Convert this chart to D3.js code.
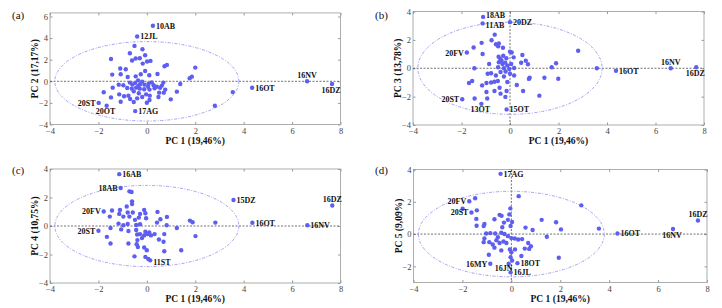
<!DOCTYPE html>
<html>
<head>
<meta charset="utf-8">
<script src="https://cdn.jsdelivr.net/npm/d3@7"></script>
<style>body{margin:0;background:#fff}</style>
</head>
<body>
<div id="chart"></div>
<script>
// PC scores (unlabelled samples)
const ptsA = [[-0.51,3.28],[-0.18,2.97],[-0.70,2.60],[-0.07,2.41],[-0.46,2.11],[-0.29,2.14],[-1.48,2.07],[-0.61,1.92],[0.01,1.83],[0.15,1.89],[-0.17,1.64],[0.73,1.39],[0.83,1.52],[2.0,1.27],[-1.10,1.18],[-0.87,1.11],[-0.07,0.96],[-0.25,0.65],[0.10,0.56],[0.44,0.68],[-1.43,0.62],[-1.08,0.65],[-0.79,0.40],[-0.46,0.46],[1.86,0.43],[1.77,0.28],[-0.36,0.09],[-0.19,-0.03],[-0.48,-0.15],[-0.28,-0.28],[-0.10,-0.31],[0.07,-0.22],[0.28,-0.37],[0.41,-0.50],[0.62,-0.40],[0.76,-0.77],[1.38,-0.25],[-1.16,-0.31],[-0.97,-0.37],[-1.41,-0.59],[-0.81,-0.62],[-0.62,-0.68],[-0.44,-0.59],[-0.29,-0.68],[-0.11,-0.74],[0.11,-0.77],[0.32,-0.65],[0.51,-1.05],[0.70,-1.05],[1.24,-0.96],[-1.78,-1.02],[-1.48,-1.49],[-1.14,-1.21],[-0.94,-1.39],[-0.76,-1.33],[-0.54,-0.93],[-0.33,-1.11],[-0.19,-1.46],[-0.03,-1.21],[0.12,-1.33],[0.99,-1.67],[0.48,-1.46],[-0.69,-1.64],[-1.08,-1.89],[-0.54,-1.92],[0.0,-1.98],[0.11,-1.73],[-0.40,-1.58],[2.81,-2.26],[3.55,-1.0],[-0.6,-0.3],[-0.35,-0.42],[0.2,-0.1],[0.05,-0.5],[-0.7,-0.12],[0.68,-0.12],[0.55,-0.6]];
const ptsB = [[-0.63,2.37],[-0.76,1.97],[-1.17,1.79],[-0.58,1.69],[-0.46,1.74],[-0.49,1.55],[-0.29,1.44],[-1.50,1.46],[-1.13,1.0],[0.0,1.16],[0.07,1.11],[0.51,0.93],[-0.28,0.88],[-0.47,0.81],[-0.40,0.65],[-0.15,0.70],[0.15,0.77],[0.65,0.53],[0.74,0.28],[0.46,0.39],[-0.46,0.42],[-0.31,0.30],[-0.11,0.19],[-0.86,0.30],[-0.49,0.07],[-0.25,0.0],[-0.03,-0.05],[0.17,0.02],[-1.47,0.0],[-0.78,-0.35],[-0.39,-0.26],[-0.18,-0.23],[0.0,-0.39],[0.17,-0.51],[-0.25,-0.58],[-0.58,-0.51],[-0.92,-0.39],[0.81,-0.67],[0.78,-0.75],[1.42,-0.67],[1.99,-0.74],[1.72,0.07],[1.90,0.35],[2.81,1.23],[3.58,0.0],[-1.69,-1.04],[-1.56,-0.90],[-1.15,-1.21],[-0.97,-1.04],[-0.78,-1.0],[-0.64,-0.95],[-0.5,-0.9],[-0.97,-1.67],[-0.64,-1.60],[-0.39,-1.79],[-0.11,-0.97],[0.28,-1.18],[0.54,-1.60],[-0.14,-1.6],[-0.19,-2.02],[-0.43,-1.37],[1.21,-1.93],[-1.46,-2.13],[-0.94,-2.13],[-0.35,0.55],[-0.2,0.4],[0.05,0.3]];
const ptsC = [[-0.72,2.43],[-0.63,2.39],[-0.61,1.73],[-0.61,1.54],[-0.83,1.37],[-1.44,1.09],[-1.11,1.13],[-0.79,0.95],[-0.58,0.95],[-0.28,0.85],[-0.11,1.13],[-0.06,0.90],[0.44,0.99],[-1.53,0.66],[-1.14,0.85],[-0.97,0.66],[-0.72,0.66],[-0.49,0.43],[-0.33,0.59],[-0.03,0.54],[0.56,0.47],[0.83,0.64],[-1.17,0.17],[-0.97,0.05],[-0.79,0.14],[-0.44,0.07],[-0.28,0.12],[0.42,0.24],[0.82,0.05],[1.78,0.38],[1.89,0.26],[2.83,0.24],[1.24,-0.14],[-1.5,-0.14],[-1.06,-0.24],[-0.76,-0.35],[-0.44,-0.28],[-0.28,-0.57],[-0.11,-0.66],[0.03,-0.57],[0.17,-0.66],[0.32,-0.57],[-0.06,-0.40],[0.72,-0.57],[-1.65,-0.76],[0.5,-0.95],[-0.39,-0.99],[-0.76,-1.23],[-1.5,-1.23],[-0.42,-1.28],[-0.37,-1.47],[0.69,-1.11],[-0.11,-1.51],[0.0,-1.70],[0.72,-1.77],[1.42,-1.70],[2.01,-0.71],[-0.51,-2.13],[-0.06,-2.17],[0.06,-2.32],[-0.4,-0.6],[-0.2,-0.85],[0.1,-0.45]];
const ptsD = [[0.30,2.35],[2.86,1.78],[-1.48,2.22],[-1.99,1.57],[-1.41,1.47],[-1.43,0.94],[-1.42,0.52],[-1.10,0.63],[-1.13,0.50],[-0.69,0.92],[-0.48,1.19],[-0.40,1.13],[-0.04,1.59],[-0.08,1.22],[-0.30,0.71],[-0.14,0.88],[0.03,0.75],[-0.03,0.50],[-0.37,0.42],[1.24,0.88],[1.83,0.73],[2.03,0.29],[0.58,0.40],[0.87,0.25],[3.58,0.34],[-1.03,0.04],[-0.86,0.06],[-0.66,0.04],[-0.41,0.08],[-0.28,0.0],[-0.14,-0.13],[0.0,-0.25],[0.14,-0.27],[0.28,-0.34],[0.44,-0.31],[1.45,-0.17],[-1.10,-0.27],[-1.13,-0.50],[-0.90,-0.50],[-0.76,-0.65],[-0.61,-0.38],[-0.48,-0.55],[-0.32,-0.46],[-0.69,-0.84],[-0.41,-1.01],[0.69,-0.55],[0.80,-0.75],[0.73,-0.92],[0.55,-0.90],[-0.06,-0.96],[0.0,-1.13],[0.41,-1.36],[-0.03,-1.43],[-0.92,-1.28],[1.94,-1.47],[0.03,-1.64],[-0.55,-0.2],[-0.2,-0.55],[0.15,-0.95]];

// labelled samples: name, PC1, PCk
const labA = [["10AB",0.25,5.15],["12JL",-0.4,4.15],["20ST",-1.99,-2.0],["20OT",-1.66,-2.26],["17AG",-0.48,-2.76],["16OT",4.35,-0.6],["16NV",6.62,0.0],["16DZ",7.65,-0.25]];
const labB = [["18AB",-1.11,3.62],["11AB",-1.13,3.16],["20DZ",0.0,3.25],["20FV",-1.78,1.11],["20ST",-1.97,-2.18],["13OT",-1.18,-2.51],["15OT",-0.14,-2.9],["16OT",4.37,-0.18],["16NV",6.63,0.0],["16DZ",7.68,0.07]];
const labC = [["16AB",-1.14,3.64],["18AB",-1.08,2.67],["20FV",-1.78,1.02],["20ST",-2.0,-0.33],["11ST",0.14,-2.41],["15DZ",3.58,1.82],["16OT",4.36,0.23],["16NV",6.63,0.05],["16DZ",7.66,1.44]];
const labD = [["17AG",-0.44,3.73],["20FV",-1.72,2.03],["20ST",-1.63,1.34],["16MY",-0.86,-1.84],["16JN",-0.11,-1.84],["16JL",-0.03,-2.37],["18OT",0.25,-1.80],["16OT",4.34,0.04],["16NV",6.61,0.31],["16DZ",7.63,0.84]];

const xTicks = [-4,-2,0,2,4,6,8];
const xTitle = "PC 1 (19,46%)";

const width = 722, height = 308;
const dotColor = "#5e5ef0";
const serif = "'Liberation Serif','Times New Roman',serif";

const svg = d3.select("#chart").append("svg")
  .attr("width", width).attr("height", height)
  .attr("viewBox", [0, 0, width, height]);

// label placement per panel (r = right, l = left, t = above, b = below, bl = below-left, rb = right-below)
const panels = [
  {tag:"(a)", tagX:12, tagY:19, pts:ptsA, labels:labA, place:["r","r","l","b","r","r","t","b"],
   yTitle:"PC 2 (17,17%)", xr:[50,340.5], yr:[124.5,16.5], yDom:[-4,6], yMax:6.33, yTicks:[-4,-2,0,2,4,6], ry:3.68, vline:false},
  {tag:"(b)", tagX:375, tagY:19, pts:ptsB, labels:labB, place:["ru","rd","r","l","l","b","r","r","t","b"],
   yTitle:"PC 3 (13,78%)", xr:[413,704], yr:[125,11.5], yDom:[-4,4], yMax:4, yTicks:[-4,-2,0,2,4], ry:3.25, vline:true},
  {tag:"(c)", tagX:12, tagY:174, pts:ptsC, labels:labC, place:["r","l","l","l","rb","r","r","r","t"],
   yTitle:"PC 4 (10,75%)", xr:[50,340.5], yr:[283,169], yDom:[-4,4], yMax:4, yTicks:[-4,-2,0,2,4], ry:2.85, vline:false},
  {tag:"(d)", tagX:375, tagY:174, pts:ptsD, labels:labD, place:["r","l","l","l","bl","r","r","r","b","t"],
   yTitle:"PC 5 (9,09%)", xr:[413.5,707], yr:[282.5,169.5], yDom:[-3,4], yMax:4, yTicks:[-2,0,2,4], ry:2.65, vline:true}
];

const styleAxis = (a, show) => {
  a.select(".domain").remove();
  a.selectAll(".tick line").attr("stroke", "#9a9a9a");
  a.selectAll("text").attr("font-family", serif).attr("font-size", 8.5).attr("fill", "#444");
  if (!show) a.selectAll("text").remove();
};

panels.forEach(p => {
  const x = d3.scaleLinear([-4, 8], p.xr);
  const y = d3.scaleLinear(p.yDom, p.yr);
  const g = svg.append("g");
  const top = y(p.yMax), bot = y(p.yDom[0]);

  // panel tag
  g.append("text").attr("x", p.tagX).attr("y", p.tagY)
    .attr("font-family", serif).attr("font-size", 11).attr("fill", "#111").text(p.tag);

  // box
  g.append("rect").attr("x", p.xr[0]).attr("y", top)
    .attr("width", p.xr[1] - p.xr[0]).attr("height", bot - top)
    .attr("fill", "none").attr("stroke", "#9a9a9a").attr("stroke-width", 0.8);

  // ticks (inward on all four sides) and labels
  g.append("g").attr("transform", `translate(0,${bot})`)
    .call(d3.axisBottom(x).tickValues(xTicks).tickSize(-2.5).tickPadding(3).tickFormat(d3.format("d")))
    .call(a => styleAxis(a, true));
  g.append("g").attr("transform", `translate(0,${top})`)
    .call(d3.axisTop(x).tickValues(xTicks).tickSize(-2.5))
    .call(a => styleAxis(a, false));
  g.append("g").attr("transform", `translate(${p.xr[0]},0)`)
    .call(d3.axisLeft(y).tickValues(p.yTicks).tickSize(-2.5).tickPadding(2).tickFormat(d3.format("d")))
    .call(a => styleAxis(a, true));
  g.append("g").attr("transform", `translate(${p.xr[1]},0)`)
    .call(d3.axisRight(y).tickValues(p.yTicks).tickSize(-2.5))
    .call(a => styleAxis(a, false));

  // axis titles
  g.append("text").attr("x", (p.xr[0] + p.xr[1]) / 2).attr("y", bot + 19)
    .attr("text-anchor", "middle").attr("font-family", serif).attr("font-weight", "bold")
    .attr("font-size", 9.5).attr("fill", "#111").text(xTitle);
  g.append("text")
    .attr("transform", `translate(${p.xr[0] - 12},${(top + bot) / 2}) rotate(-90)`)
    .attr("text-anchor", "middle").attr("font-family", serif).attr("font-weight", "bold")
    .attr("font-size", 9.5).attr("fill", "#111").text(p.yTitle);

  // zero lines
  g.append("line").attr("x1", p.xr[0]).attr("x2", p.xr[1]).attr("y1", y(0)).attr("y2", y(0))
    .attr("stroke", "#333").attr("stroke-width", 0.7).attr("stroke-dasharray", "2,1.5");
  if (p.vline) {
    g.append("line").attr("x1", x(0)).attr("x2", x(0)).attr("y1", top).attr("y2", bot)
      .attr("stroke", "#333").attr("stroke-width", 0.7).attr("stroke-dasharray", "2,1.5");
  }

  // confidence ellipse
  g.append("ellipse").attr("cx", x(0)).attr("cy", y(0))
    .attr("rx", x(3.8) - x(0)).attr("ry", y(0) - y(p.ry))
    .attr("fill", "none").attr("stroke", "#8c8cf0").attr("stroke-width", 0.8)
    .attr("stroke-dasharray", "3,1.5,1,1.5");

  // points
  const all = p.pts.concat(p.labels.map(d => [d[1], d[2]]));
  g.append("g").selectAll("circle").data(all).join("circle")
    .attr("cx", d => x(d[0])).attr("cy", d => y(d[1])).attr("r", 2.2)
    .attr("fill", dotColor);

  // sample labels
  const off = {r:[3,3,"start"], ru:[3,1.5,"start"], rd:[3,4.5,"start"], rb:[3,5,"start"], l:[-3,3,"end"],
               t:[0,-3.5,"middle"], b:[-1,8.5,"middle"], bl:[4,7,"end"]};
  g.append("g").selectAll("text").data(p.labels).join("text")
    .attr("x", (d, i) => x(d[1]) + off[p.place[i]][0])
    .attr("y", (d, i) => y(d[2]) + off[p.place[i]][1])
    .attr("text-anchor", (d, i) => off[p.place[i]][2])
    .attr("font-family", serif).attr("font-weight", "bold").attr("font-size", 8)
    .attr("fill", "#111").text(d => d[0]);
});
</script>
</body>
</html>
